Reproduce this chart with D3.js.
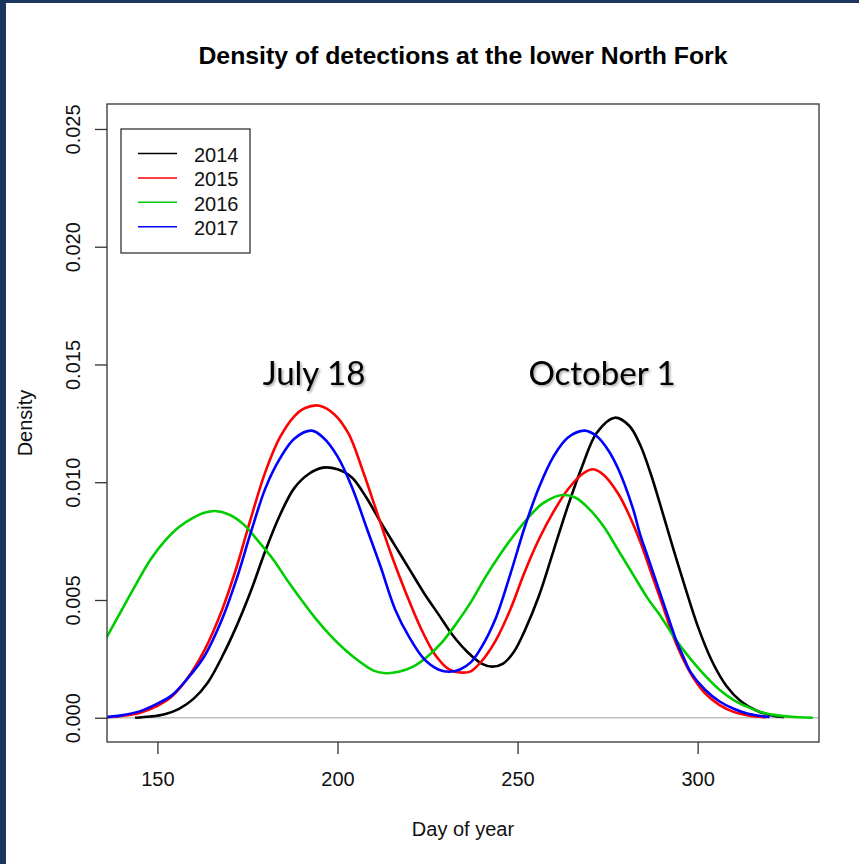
<!DOCTYPE html>
<html lang="en">
<head>
  <meta charset="utf-8">
  <title>Density of detections at the lower North Fork</title>
  <style>
    body { margin: 0; background: #fff; }
    svg { display: block; }
  </style>
</head>
<body>
<div id="d3-container"></div>

<script src="https://cdn.jsdelivr.net/npm/d3@7"></script>
<script>
  ////////////////////////////////////////////////// DATA
  // density curves (day of year, density x 1000)
  var years = ["2014", "2015", "2016", "2017"];
  var colors = ["#000000", "#ff0000", "#00cd00", "#0000ff"];

  var days2014 = [143.8,148,152,156,160,164,168,172,176,180,184,188,192,196,200,204,208,212,216,220,224,228,232,236,240,243,246,249,252,256,260,264,268,272,277,281,284,287,290,293,296,300,304,308,312,316,320,324];
  var dens2014 = [0,0.05,0.15,0.38,0.8,1.5,2.6,3.9,5.4,7.1,8.6,9.75,10.35,10.62,10.55,10.2,9.35,8.3,7.3,6.3,5.3,4.4,3.5,2.8,2.3,2.17,2.3,2.8,3.7,5.2,7.1,9.0,10.7,12.1,12.74,12.4,11.6,10.35,8.85,7.3,5.8,3.9,2.4,1.35,0.7,0.33,0.12,0.03];

  var days2015 = [134,140,145,150,154,158,163,168,172,176,180,184,188,191,195,199,203,207,211,215,219,223,227,231,234,237,240,244,248,252,256,260,264,268,271,274,278,281,284,287,290,294,298,302,306,310,314,319];
  var dens2015 = [0,0.08,0.2,0.5,0.9,1.6,2.85,4.6,6.4,8.5,10.45,11.9,12.8,13.15,13.25,12.9,12.08,10.5,8.7,6.9,5.3,3.85,2.7,2.05,1.92,1.97,2.4,3.3,4.6,6.2,7.6,8.75,9.7,10.35,10.55,10.3,9.5,8.6,7.5,6.2,4.9,3.16,1.9,1.05,0.55,0.25,0.1,0.02];

  var days2016 = [134,136,140,144,148,152,156,160,163,166,170,174,178,182,186,190,194,198,202,206,210,213.5,217,221,225,229,233,237,241,245,249,253,257,262,266,270,274,278,282,286,290,294,298,302,306,310,314,318,322,326,332];
  var dens2016 = [2.9,3.44,4.55,5.65,6.7,7.5,8.1,8.5,8.7,8.78,8.62,8.2,7.5,6.75,5.85,5.0,4.2,3.5,2.9,2.4,2.0,1.89,1.95,2.17,2.6,3.2,4.0,4.9,5.95,6.9,7.75,8.5,9.1,9.45,9.35,8.85,8.1,7.1,6.1,5.1,4.25,3.3,2.5,1.8,1.2,0.75,0.45,0.22,0.1,0.04,0];

  var days2017 = [135,140,145,150,154,158,163,168,172,176,180,184,188,192.8,196,200,204,208,212,216,220,224,228,231,234,237,240,244,248,252,256,260,264,268.6,272,275,278,282,284,286,288,290,292,294,296,298,302,306,310,314,320];
  var dens2017 = [0.02,0.1,0.27,0.6,0.95,1.6,2.6,4.2,5.9,7.9,9.75,11.0,11.85,12.19,11.9,11.1,9.8,8.1,6.4,4.6,3.4,2.5,2.05,1.95,2.05,2.35,3.0,4.25,6.1,8.1,9.8,11.1,11.9,12.19,11.95,11.4,10.55,8.9,7.8,6.9,6.0,5.1,4.2,3.3,2.6,1.95,1.2,0.7,0.38,0.17,0.03];

  var xTicks = [150, 200, 250, 300];
  var yTicks = [0, 0.005, 0.010, 0.015, 0.020, 0.025];

  var allDays = [days2014, days2015, days2016, days2017];
  var allDens = [dens2014, dens2015, dens2016, dens2017];

  ////////////////////////////////////////////////// SETUP
  var width = 859, height = 864;
  var plot = { left: 107, right: 819, top: 104, bottom: 742 };

  var svg = d3.select("#d3-container").append("svg")
      .attr("width", width)
      .attr("height", height)
      .attr("font-family", "'Liberation Sans', Arial, sans-serif");

  svg.append("rect").attr("width", width).attr("height", height).attr("fill", "#fff");
  // slide frame
  svg.append("rect").attr("x", 0).attr("y", 0).attr("width", 6).attr("height", height).attr("fill", "#1b365d");
  svg.append("rect").attr("x", 0).attr("y", 0).attr("width", width).attr("height", 3).attr("fill", "#1b365d");

  var x = d3.scaleLinear().domain([136, 333.7]).range([plot.left, plot.right]);
  var y = d3.scaleLinear().domain([-0.00103, 0.02606]).range([plot.bottom, plot.top]);

  svg.append("clipPath").attr("id", "clip")
    .append("rect")
      .attr("x", plot.left).attr("y", plot.top)
      .attr("width", plot.right - plot.left)
      .attr("height", plot.bottom - plot.top);

  // zero line
  svg.append("line")
      .attr("x1", plot.left).attr("x2", plot.right)
      .attr("y1", y(0)).attr("y2", y(0))
      .attr("stroke", "#bebebe").attr("stroke-width", 1.3);

  var line = d3.line()
      .x(d => x(d[0]))
      .y(d => y(d[1] / 1000))
      .curve(d3.curveCatmullRom.alpha(0.5));

  svg.append("g").attr("clip-path", "url(#clip)")
    .selectAll("path")
    .data(years)
    .join("path")
      .attr("fill", "none")
      .attr("stroke", (d, i) => colors[i])
      .attr("stroke-width", 2.6)
      .attr("stroke-linejoin", "round")
      .attr("d", (d, i) => line(d3.zip(allDays[i], allDens[i])));

  // box
  svg.append("rect")
      .attr("x", plot.left).attr("y", plot.top)
      .attr("width", plot.right - plot.left)
      .attr("height", plot.bottom - plot.top)
      .attr("fill", "none").attr("stroke", "#333").attr("stroke-width", 1.3);

  ////////////////////////////////////////////////// AXES
  var xAxis = svg.append("g")
      .attr("transform", `translate(0,${plot.bottom})`)
      .call(d3.axisBottom(x).tickValues(xTicks).tickSize(12).tickSizeOuter(0).tickPadding(18));
  xAxis.select(".domain").remove();
  xAxis.selectAll("line").attr("stroke", "#333").attr("stroke-width", 1.3);
  xAxis.selectAll("text").attr("font-size", 20).attr("fill", "#111")
      .attr("font-family", "'Liberation Sans', Arial, sans-serif");

  var yAxis = svg.append("g")
      .attr("transform", `translate(${plot.left},0)`)
      .call(d3.axisLeft(y).tickValues(yTicks).tickFormat(d3.format(".3f")).tickSize(12).tickSizeOuter(0));
  yAxis.select(".domain").remove();
  yAxis.selectAll("line").attr("stroke", "#333").attr("stroke-width", 1.3);
  yAxis.selectAll("text")
      .attr("x", null).attr("dy", null)
      .attr("text-anchor", "middle")
      .attr("transform", "translate(-27,0) rotate(-90)")
      .attr("font-size", 20).attr("fill", "#111")
      .attr("font-family", "'Liberation Sans', Arial, sans-serif");

  ////////////////////////////////////////////////// LABELS
  svg.append("text")
      .attr("x", (plot.left + plot.right) / 2).attr("y", 64)
      .attr("text-anchor", "middle")
      .attr("font-size", 24.8).attr("font-weight", "bold")
      .text("Density of detections at the lower North Fork");

  svg.append("text")
      .attr("x", (plot.left + plot.right) / 2).attr("y", 836)
      .attr("text-anchor", "middle")
      .attr("font-size", 20).attr("fill", "#111")
      .text("Day of year");

  svg.append("text")
      .attr("transform", `translate(32,${(plot.top + plot.bottom) / 2}) rotate(-90)`)
      .attr("text-anchor", "middle")
      .attr("font-size", 20).attr("fill", "#111")
      .text("Density");

  // annotations
  var defs = svg.append("defs");
  defs.append("filter").attr("id", "shadow")
    .append("feDropShadow")
      .attr("dx", 1.5).attr("dy", 1.5).attr("stdDeviation", 1)
      .attr("flood-color", "#000").attr("flood-opacity", 0.35);

  svg.append("text")
      .attr("x", 314).attr("y", 385)
      .attr("text-anchor", "middle")
      .attr("font-family", "Lato, 'Open Sans', sans-serif")
      .attr("font-size", 33)
      .attr("filter", "url(#shadow)")
      .text("July 18");

  svg.append("text")
      .attr("x", 602).attr("y", 385)
      .attr("text-anchor", "middle")
      .attr("font-family", "Lato, 'Open Sans', sans-serif")
      .attr("font-size", 33)
      .attr("filter", "url(#shadow)")
      .text("October 1");

  ////////////////////////////////////////////////// LEGEND
  var legend = svg.append("g").attr("transform", "translate(121,129)");
  legend.append("rect")
      .attr("width", 129).attr("height", 124)
      .attr("fill", "#fff").attr("stroke", "#333").attr("stroke-width", 1.3);

  var row = legend.selectAll("g.row")
    .data(years)
    .join("g")
      .attr("class", "row")
      .attr("transform", (d, i) => `translate(0,${24.5 + i * 24.4})`);

  row.append("line")
      .attr("x1", 17).attr("x2", 56)
      .attr("stroke", (d, i) => colors[i])
      .attr("stroke-width", 1.5);

  row.append("text")
      .attr("x", 73).attr("y", 8.5)
      .attr("font-size", 20).attr("fill", "#111")
      .text(d => d);
</script>
</body>
</html>
